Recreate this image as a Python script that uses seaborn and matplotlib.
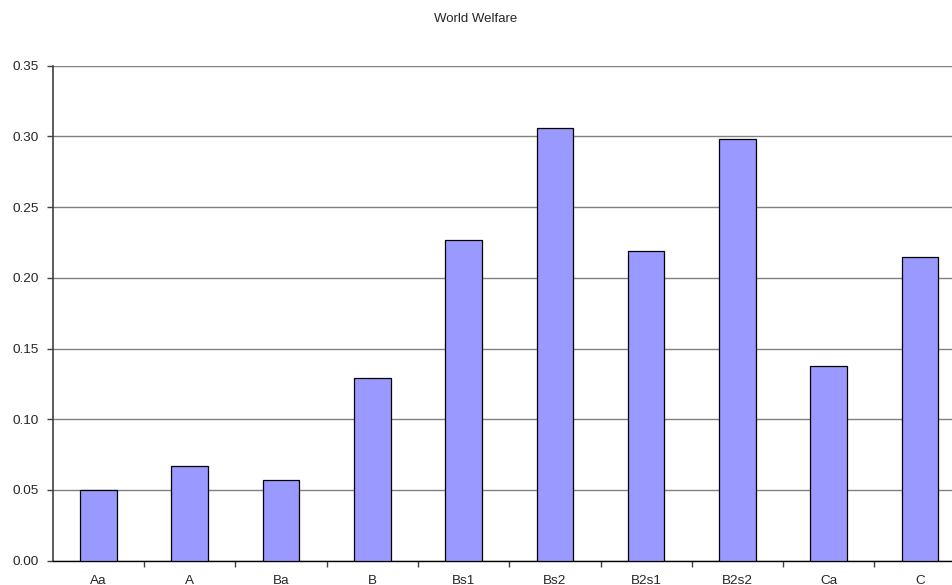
import matplotlib
matplotlib.use("Agg")
import matplotlib.pyplot as plt
import numpy as np
import pandas as pd
import seaborn as sns

# values
scenarios = ["Aa", "A", "Ba", "B", "Bs1", "Bs2", "B2s1", "B2s2", "Ca", "C"]
welfare = [0.050, 0.067, 0.057, 0.129, 0.227, 0.306, 0.219, 0.298, 0.138, 0.215]
y_ticks = [0.00, 0.05, 0.10, 0.15, 0.20, 0.25, 0.30, 0.35]

sns.set_style("white")
plt.rcParams['font.family'] = ['Liberation Sans', 'DejaVu Sans']

df = pd.DataFrame({"scenario": scenarios, "welfare": welfare})

fig = plt.figure(figsize=(9.52, 5.85), dpi=100)
# axes run slightly past the right edge, as in the reference
ax = fig.add_axes([52.7/952, 24.3/585, 913/952, 495/585])

sns.barplot(data=df, x="scenario", y="welfare", color="#9999FF", saturation=1,
			edgecolor="black", linewidth=0.9, width=0.4, ax=ax, zorder=3)

ax.set_ylim(0, 0.35)
ax.set_xlim(-0.5, len(scenarios) - 0.5)
ax.set_yticks(y_ticks)
ax.set_yticklabels(["%.2f" % t for t in y_ticks], fontsize=9.7)
ax.yaxis.grid(True, color="#808080", linewidth=1.0, zorder=0)
ax.set_axisbelow(True)

# ticks between categories, labels at centres
ax.set_xticks(np.arange(len(scenarios)) + 0.5)
ax.set_xticklabels([])
ax.set_xticks(np.arange(len(scenarios)), minor=True)
ax.set_xticklabels(scenarios, minor=True, fontsize=9.7)
ax.tick_params(axis="x", which="major", direction="out", length=4, width=1, color="#404040", bottom=True)
ax.tick_params(axis="x", which="minor", length=0, pad=10)
ax.tick_params(axis="y", direction="out", length=4, width=1, color="#404040", left=True, pad=6)

for side in ["top", "right"]:
	ax.spines[side].set_visible(False)
ax.spines["left"].set_color("#404040")
ax.spines["left"].set_linewidth(1.2)
ax.spines["bottom"].set_color("black")
ax.spines["bottom"].set_linewidth(1.0)

ax.set_xlabel("")
ax.set_ylabel("")
fig.text(476/952, 1 - 19/585, "World Welfare", ha="center", va="center", fontsize=9.5)

fig.savefig("out.png", dpi=100)
